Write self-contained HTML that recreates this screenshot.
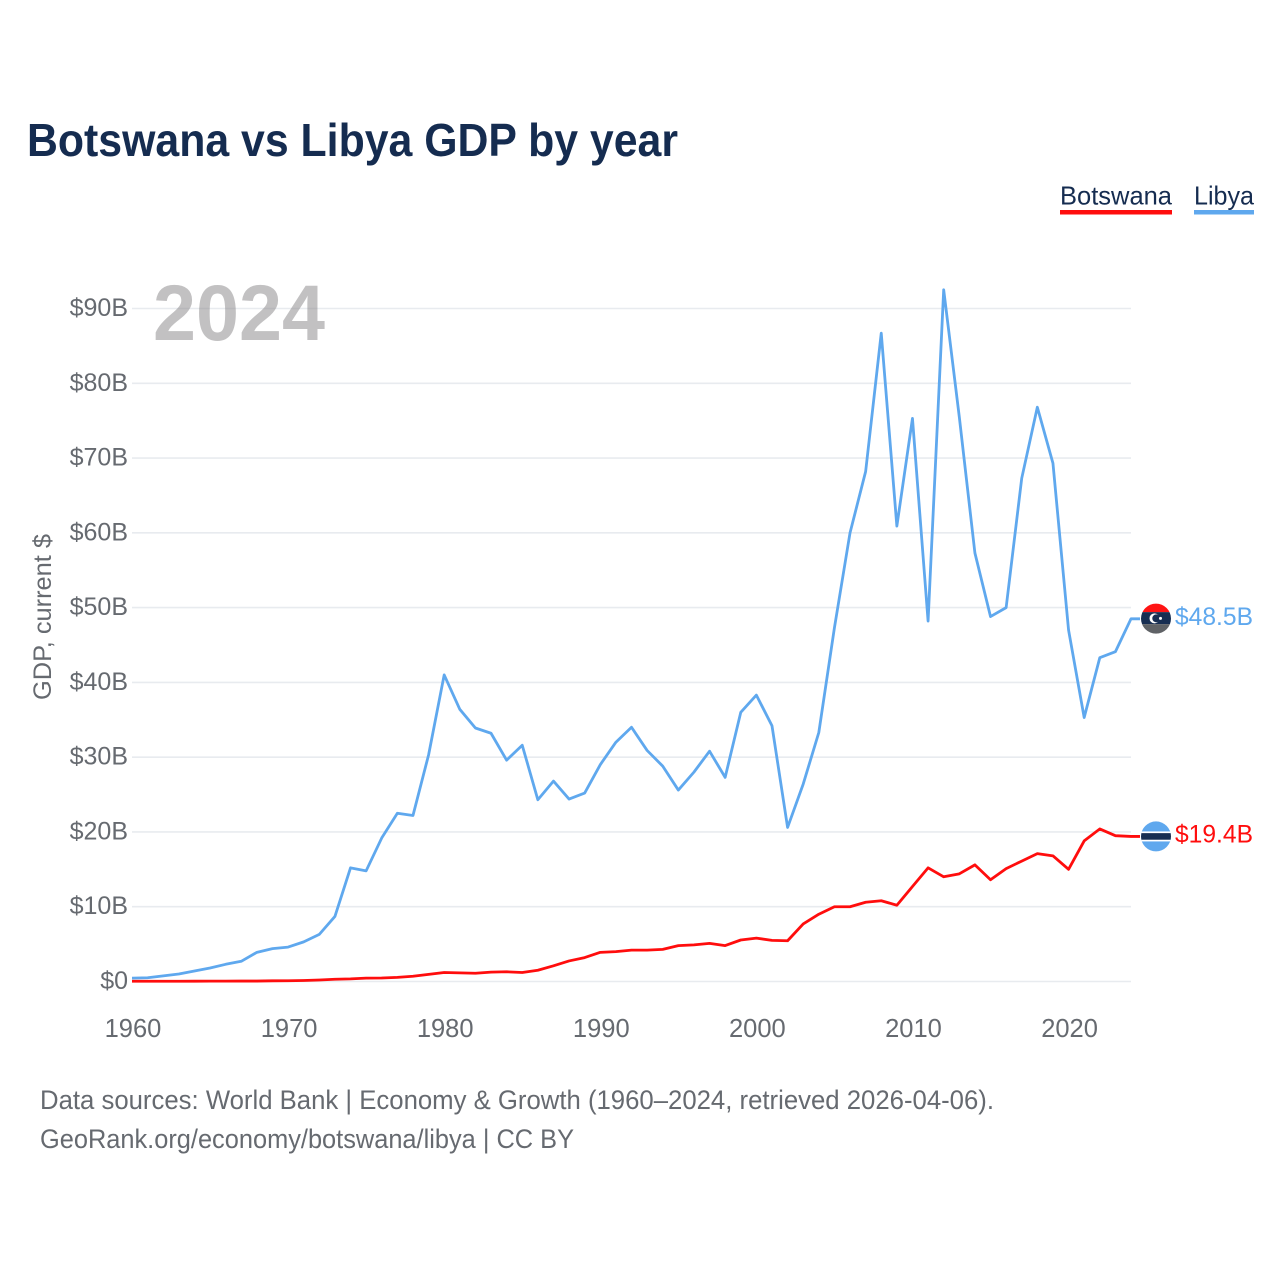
<!DOCTYPE html>
<html lang="en">
<head>
<meta charset="utf-8">
<title>Botswana vs Libya GDP by year</title>
<style>
html,body{margin:0;padding:0;background:#fff;width:1280px;height:1280px;overflow:hidden}
svg{display:block}
text{font-family:"Liberation Sans",sans-serif}
</style>
</head>
<body>
<svg id="chart" xmlns="http://www.w3.org/2000/svg" width="1280" height="1280" viewBox="0 0 1280 1280">
  <defs>
    <clipPath id="clip-libya"><circle cx="0" cy="0" r="15"/></clipPath>
    <clipPath id="clip-botswana"><circle cx="0" cy="0" r="15"/></clipPath>
  </defs>
  <text x="27" y="156" font-size="46" font-weight="700" fill="#152c50" textLength="651" lengthAdjust="spacingAndGlyphs">Botswana vs Libya GDP by year</text>

  <g>
    <g>
      <text x="1060" y="204.5" font-size="26" fill="#152c50" textLength="112" lengthAdjust="spacingAndGlyphs">Botswana</text>
      <rect x="1060" y="210" width="112" height="4.5" fill="#ff0d0d"/>
    </g>
    <g>
      <text x="1194" y="204.5" font-size="26" fill="#152c50" textLength="60" lengthAdjust="spacingAndGlyphs">Libya</text>
      <rect x="1194" y="210" width="60" height="4.5" fill="#5fa8ee"/>
    </g>
  </g>

  <g id="grid"></g>
  <g id="y-ticks"></g>
  <g id="x-ticks"></g>

  <text x="153" y="340" font-size="79" font-weight="700" fill="#858385" fill-opacity="0.5" textLength="172" lengthAdjust="spacingAndGlyphs">2024</text>

  <text transform="translate(51,700) rotate(-90)" font-size="25" fill="#666a70" textLength="166" lengthAdjust="spacingAndGlyphs">GDP, current $</text>

  <g id="series"></g>

  <g id="flag-libya">
    <g clip-path="url(#clip-libya)">
      <rect x="-16" y="-16" width="32" height="9.5" fill="#ff1414"/>
      <rect x="-16" y="-6.5" width="32" height="12" fill="#172e52"/>
      <rect x="-16" y="5.5" width="32" height="11" fill="#5f6266"/>
      <circle cx="-1.5" cy="-0.3" r="5" fill="#fff"/>
      <circle cx="0.3" cy="-0.3" r="4" fill="#172e52"/>
      <circle cx="4.5" cy="-0.3" r="1.5" fill="#fff"/>
    </g>
  </g>
  <g id="flag-botswana">
    <g clip-path="url(#clip-botswana)">
      <rect x="-16" y="-16" width="32" height="32" fill="#5fa8ee"/>
      <rect x="-16" y="-5" width="32" height="10" fill="#fff"/>
      <rect x="-16" y="-3.3" width="32" height="6.6" fill="#172e52"/>
    </g>
  </g>
  <text id="value-libya" x="1175" font-size="25" fill="#5fa8ee" textLength="78" lengthAdjust="spacingAndGlyphs"></text>
  <text id="value-botswana" x="1175" font-size="25" fill="#ff0d0d" textLength="78" lengthAdjust="spacingAndGlyphs"></text>

  <text x="40" y="1109" font-size="27" fill="#666a70" textLength="954" lengthAdjust="spacingAndGlyphs">Data sources: World Bank | Economy &amp; Growth (1960–2024, retrieved 2026-04-06).</text>
  <text x="40" y="1148" font-size="27" fill="#666a70" textLength="534" lengthAdjust="spacingAndGlyphs">GeoRank.org/economy/botswana/libya | CC BY</text>
</svg>
<script>
const startYear = 1960;
const xTickYears = [1960, 1970, 1980, 1990, 2000, 2010, 2020];
const yTickValues = [0, 10, 20, 30, 40, 50, 60, 70, 80, 90];
const yTickLabels = ["$0", "$10B", "$20B", "$30B", "$40B", "$50B", "$60B", "$70B", "$80B", "$90B"];
const libyaValues = [0.45, 0.5, 0.75, 1.0, 1.4, 1.8, 2.3, 2.7, 3.9, 4.4,
  4.6, 5.3, 6.3, 8.7, 15.2, 14.8, 19.2, 22.5, 22.2, 30.3,
  41.0, 36.4, 33.9, 33.2, 29.6, 31.6, 24.3, 26.8, 24.4, 25.2,
  29.0, 32.0, 34.0, 30.9, 28.8, 25.6, 28.0, 30.8, 27.3, 36.0,
  38.3, 34.2, 20.6, 26.4, 33.3, 47.3, 60.0, 68.2, 86.7, 60.9,
  75.3, 48.2, 92.5, 75.5, 57.3, 48.8, 50.0, 67.3, 76.8, 69.3,
  47.0, 35.3, 43.3, 44.1, 48.5];
const botswanaValues = [0.03, 0.03, 0.03, 0.03, 0.04, 0.05, 0.05, 0.06, 0.06, 0.09,
  0.1, 0.13, 0.2, 0.3, 0.35, 0.45, 0.47, 0.55, 0.7, 0.95,
  1.2, 1.15, 1.1, 1.25, 1.3, 1.2, 1.5, 2.1, 2.75, 3.2,
  3.9, 4.0, 4.2, 4.2, 4.3, 4.8, 4.9, 5.1, 4.8, 5.55,
  5.8, 5.5, 5.45, 7.7, 9.0, 10.0, 10.0, 10.6, 10.8, 10.2,
  12.7, 15.2, 14.0, 14.4, 15.6, 13.6, 15.1, 16.1, 17.1, 16.8,
  15.0, 18.8, 20.4, 19.5, 19.4];
const libyaEndLabel = "$48.5B";
const botswanaEndLabel = "$19.4B";

const SVG_NS = "http://www.w3.org/2000/svg";
const endIndex = libyaValues.length - 1;
function xScale(year) { return 132 + (year - startYear) * (999 / 64); }
function yScale(value) { return 981.5 - value * (673 / 90); }
function make(tag, parent) {
  const el = document.createElementNS(SVG_NS, tag);
  parent.appendChild(el);
  return el;
}

const gridGroup = document.getElementById("grid");
const yTickGroup = document.getElementById("y-ticks");
yTickValues.forEach(function (value, i) {
  const line = make("line", gridGroup);
  
  
  line.setAttribute("x1", 132);
  line.setAttribute("x2", 1131);
  line.setAttribute("y1", yScale(value));
  line.setAttribute("y2", yScale(value));
  line.setAttribute("stroke", "#e8ebef");
  line.setAttribute("stroke-width", "1.6");
  const label = make("text", yTickGroup);
  
  
  label.setAttribute("x", 128);
  label.setAttribute("y", yScale(value) + 7.5);
  label.setAttribute("text-anchor", "end");
  label.setAttribute("font-size", "25");
  label.setAttribute("fill", "#666a70");
  label.textContent = yTickLabels[i];
});

const xTickGroup = document.getElementById("x-ticks");
xTickYears.forEach(function (year) {
  const label = make("text", xTickGroup);
  
  
  label.setAttribute("x", xScale(year) + 1);
  label.setAttribute("y", 1037);
  label.setAttribute("text-anchor", "middle");
  label.setAttribute("font-size", "25.5");
  label.setAttribute("fill", "#666a70");
  label.textContent = String(year);
});

function seriesPoints(values) {
  const pts = values.map(function (value, i) {
    return xScale(startYear + i).toFixed(2) + "," + yScale(value).toFixed(2);
  });
  pts.push((xScale(startYear + endIndex) + 9).toFixed(2) + "," + yScale(values[endIndex]).toFixed(2));
  return pts.join(" ");
}
const seriesGroup = document.getElementById("series");

const libyaLine = make("polyline", seriesGroup);


libyaLine.setAttribute("points", seriesPoints(libyaValues));
libyaLine.setAttribute("fill", "none");
libyaLine.setAttribute("stroke", "#5fa8ee");
libyaLine.setAttribute("stroke-width", "2.8");
libyaLine.setAttribute("stroke-linejoin", "round");

const botswanaLine = make("polyline", seriesGroup);


botswanaLine.setAttribute("points", seriesPoints(botswanaValues));
botswanaLine.setAttribute("fill", "none");
botswanaLine.setAttribute("stroke", "#ff0d0d");
botswanaLine.setAttribute("stroke-width", "2.8");
botswanaLine.setAttribute("stroke-linejoin", "round");

const markerX = xScale(startYear + endIndex) + 25;
document.getElementById("flag-libya").setAttribute("transform", "translate(" + markerX + "," + (yScale(libyaValues[endIndex]) - 0.2) + ")");
document.getElementById("flag-botswana").setAttribute("transform", "translate(" + markerX + "," + yScale(botswanaValues[endIndex]) + ")");
const libyaValueText = document.getElementById("value-libya");
libyaValueText.setAttribute("y", yScale(libyaValues[endIndex]) + 6);
libyaValueText.textContent = libyaEndLabel;
const botswanaValueText = document.getElementById("value-botswana");
botswanaValueText.setAttribute("y", yScale(botswanaValues[endIndex]) + 6);
botswanaValueText.textContent = botswanaEndLabel;
</script>
</body>
</html>
